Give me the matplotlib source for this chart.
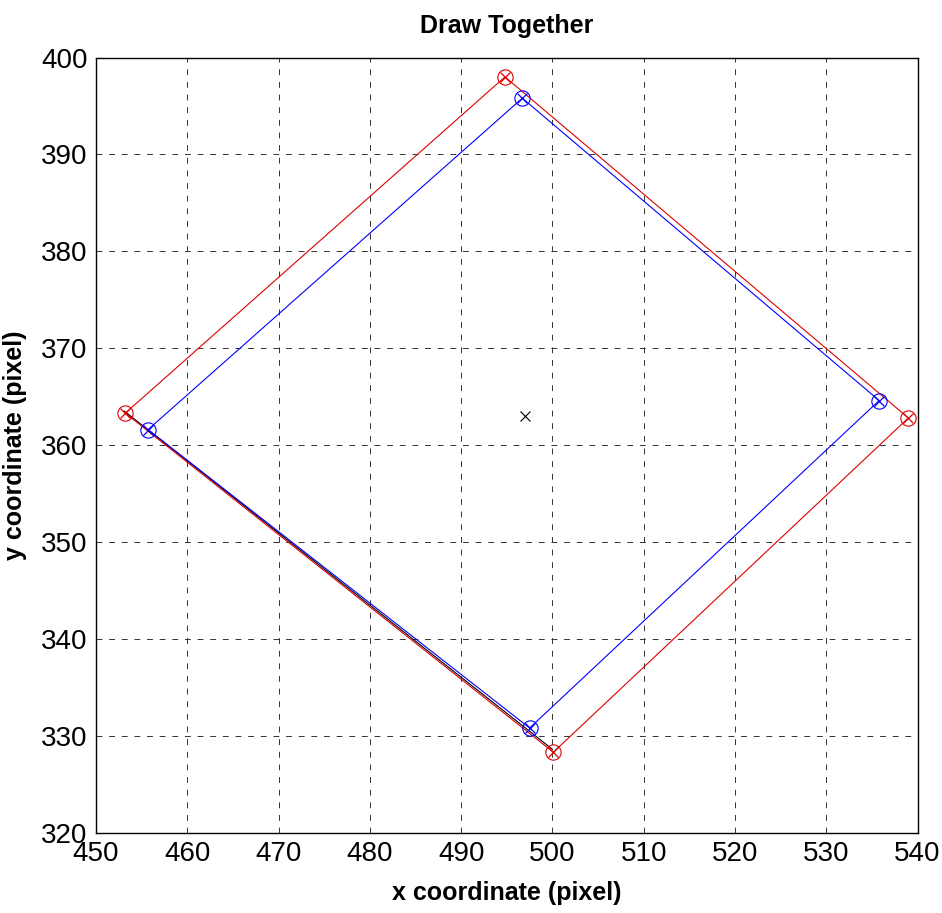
"""Draw two quadrilaterals (red and blue) with their corner points."""

import numpy as np
import matplotlib.pyplot as plt

plt.rcParams['font.family'] = ['Liberation Sans', 'DejaVu Sans']

# Corner points (pixel coordinates), closed polygons
red_x = [453.2, 494.8, 539.0, 500.1, 453.2]
red_y = [363.3, 398.0, 362.8, 328.3, 363.3]
blue_x = [455.7, 496.7, 535.8, 497.5, 455.7]
blue_y = [361.6, 395.8, 364.6, 330.8, 361.6]

# Edge drawn in black under the red one
black_x = [453.1, 500.0]
black_y = [363.5, 328.6]

center_x = 497.0
center_y = 363.0

xticks = np.arange(450, 541, 10)
yticks = np.arange(320, 401, 10)

# =============================================================================
fig = plt.figure(figsize=(9.42, 9.13), dpi=100)
ax = fig.add_axes([0.102, 0.088, 0.872, 0.849])

lw = 0.8
ax.plot(black_x, black_y, color='black', linewidth=lw, zorder=2)
ax.plot(blue_x, blue_y, color='blue', linewidth=lw, zorder=3)
ax.plot(red_x, red_y, color='#dd0000', linewidth=lw, zorder=4)

ax.plot(blue_x[:-1], blue_y[:-1], 'o', mfc='none', mec='blue', ms=11, mew=0.8, zorder=5)
ax.plot(blue_x[:-1], blue_y[:-1], 'x', color='blue', ms=7.5, mew=0.9, zorder=5)
ax.plot(red_x[:-1], red_y[:-1], 'o', mfc='none', mec='#dd0000', ms=11, mew=0.8, zorder=6)
ax.plot(red_x[:-1], red_y[:-1], 'x', color='#dd0000', ms=7.5, mew=0.9, zorder=6)
ax.plot(center_x, center_y, 'x', color='black', ms=6.5, mew=0.8, zorder=6)

ax.set_xlim(450, 540)
ax.set_ylim(320, 400)
ax.set_xticks(xticks)
ax.set_yticks(yticks)
ax.tick_params(direction='in', length=0, labelsize=20, pad=6)
ax.grid(True, color='#333333', linestyle=(0, (6, 7)), linewidth=0.7)
for s in ax.spines.values():
    s.set_linewidth(1.0)

ax.set_xlabel('x coordinate (pixel)', fontsize=18, fontweight='bold', labelpad=10)
ax.set_ylabel('y coordinate (pixel)', fontsize=18, fontweight='bold', labelpad=10)
ax.set_title('Draw Together', fontsize=18, fontweight='bold', pad=18)

fig.savefig('out.png', dpi=100)
